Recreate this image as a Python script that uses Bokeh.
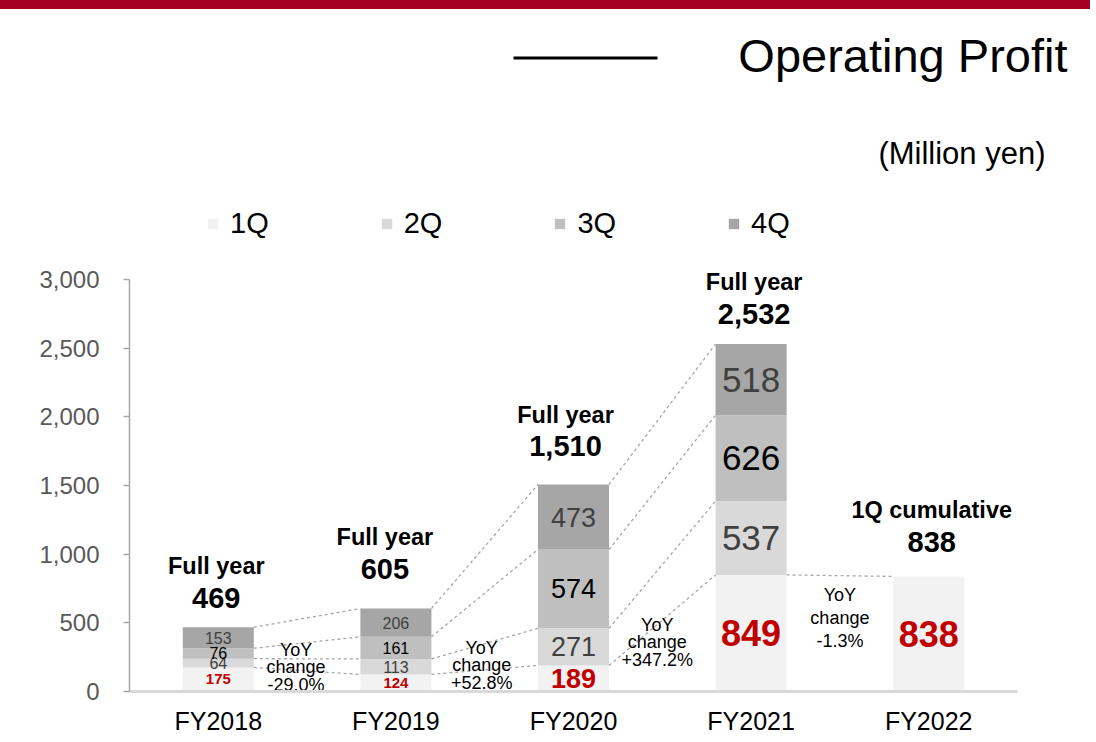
from bokeh.plotting import figure
from bokeh.models import (ColumnDataSource, Range1d, FixedTicker, Legend, LegendItem,
                          Label, BoxAnnotation, Div, NumeralTickFormatter)
from bokeh.layouts import column
from bokeh.embed import file_html
from bokeh.resources import INLINE
from bokeh.core.properties import value

# ---------------- data ----------------
years = ["FY2018", "FY2019", "FY2020", "FY2021", "FY2022"]
quarters = ["1Q", "2Q", "3Q", "4Q"]
q1 = [175, 124, 189, 849, 838]
q2 = [64, 113, 271, 537, 0]
q3 = [76, 161, 574, 626, 0]
q4 = [153, 206, 473, 518, 0]
full_year = [469, 605, 1510, 2532, 838]
headers = ["Full year", "Full year", "Full year", "Full year", "1Q cumulative"]
yoy_change = ["-29.0%", "+52.8%", "+347.2%", "-1.3%"]
y_ticks = [0, 500, 1000, 1500, 2000, 2500, 3000]

# ---------------- styles / layout ----------------
FONT = "Liberation Sans"
bar_colors = ["#f2f2f2", "#d9d9d9", "#bfbfbf", "#a6a6a6"]
label_colors = ["#c00000", "#404040", "#000000", "#404040"]
seg_font = ["16px", "16px", "27px", "35px", "35px"]
q1_font = ["15px", "15px", "27px", "36px", "36px"]
value_lift = [29, 40, 39, 30, 34]       # px above bar top (text centre)
header_lift = [61, 72, 70, 62, 66]
label_dx = [-2, -11, -8, 3, 3]
yoy_anchor = [175, 190, 357, 532]       # y of middle line of the YoY notes
yoy_dx = [-11, -3, -5, 0]
BAR_W = 0.4

series = [q1, q2, q3, q4]
xs = [i + 0.5 for i in range(len(years))]

# ---------------- figure ----------------
PX_PER_UNIT = 412 / 3000.0
BAR_H = 9
FIG_W, FIG_H = 1090, 741 - BAR_H
LEFT, BOTTOM = 129, 50
frame_h = FIG_H - BOTTOM
p = figure(width=FIG_W, height=FIG_H, output_backend="svg", toolbar_location=None,
           x_range=Range1d(0, (FIG_W - LEFT) / 177.6),
           y_range=Range1d(0, frame_h / PX_PER_UNIT),
           min_border_left=LEFT, min_border_right=0, min_border_top=0,
           min_border_bottom=BOTTOM)
p.outline_line_color = None
p.xgrid.visible = False
p.ygrid.visible = False

# stacked bars
src = ColumnDataSource(dict(x=xs, **{q: s for q, s in zip(quarters, series)}))
bars = p.vbar_stack(quarters, x="x", width=BAR_W, source=src,
                    fill_color=bar_colors, line_color=None)

# dashed connectors between consecutive bars
cum = [[sum(s[i] for s in series[:k + 1]) for k in range(4)] for i in range(len(years))]
levels = [sum(1 for s in series if s[i]) for i in range(len(years))]
cx0, cx1, cy0, cy1 = [], [], [], []
for i in range(len(years) - 1):
    for k in range(min(levels[i], levels[i + 1])):
        cx0.append(xs[i] + BAR_W / 2)
        cx1.append(xs[i + 1] - BAR_W / 2)
        cy0.append(cum[i][k])
        cy1.append(cum[i + 1][k])
p.segment(x0=cx0, y0=cy0, x1=cx1, y1=cy1, line_color="#a6a6a6",
          line_width=1.3, line_dash="3 3")

# segment value labels
sx, sy, st, ss, sc, sst = [], [], [], [], [], []
for i in range(len(years)):
    base = 0
    for k, s in enumerate(series):
        v = s[i]
        if not v:
            continue
        sx.append(xs[i]); sy.append(base + v / 2); st.append(str(v))
        ss.append(q1_font[i] if k == 0 else seg_font[i])
        sc.append(label_colors[k])
        sst.append("bold" if k == 0 else "normal")
        base += v
p.text(x="x", y="y", text="t", source=ColumnDataSource(dict(x=sx, y=sy, t=st, s=ss, c=sc, st=sst)),
       text_font=value(FONT), text_font_size="s", text_color="c", text_font_style="st",
       text_align="center", text_baseline="middle")

# full-year / cumulative labels
tops = [c[lv - 1] for c, lv in zip(cum, levels)]
val_src = ColumnDataSource(dict(x=xs, y=tops, t=[f"{v:,}" for v in full_year],
                                dy=[-l for l in value_lift], dx=label_dx))
hdr_src = ColumnDataSource(dict(x=xs, y=tops, t=headers,
                                dy=[-l for l in header_lift], dx=label_dx))
p.text(x="x", y="y", text="t", source=val_src, x_offset="dx", y_offset="dy",
       text_font=value(FONT), text_font_size="29px", text_font_style="bold",
       text_color="black", text_align="center", text_baseline="middle")
p.text(x="x", y="y", text="t", source=hdr_src, x_offset="dx", y_offset="dy",
       text_font=value(FONT), text_font_size="23.5px", text_font_style="bold",
       text_color="black", text_align="center", text_baseline="middle")

# YoY notes
yoy_txt = [f"YoY\nchange\n{c}" for c in yoy_change]
yx = [i + 1.0 for i in range(len(yoy_change))]
p.text(x=yx[:3], y=yoy_anchor[:3], text=yoy_txt[:3], x_offset=yoy_dx[:3],
       text_font=value(FONT), text_font_size="18px", text_color="black",
       text_align="center", text_baseline="middle", text_line_height=0.885)
p.text(x=yx[3:], y=yoy_anchor[3:], text=yoy_txt[3:], x_offset=yoy_dx[3:],
       text_font=value(FONT), text_font_size="18px", text_color="black",
       text_align="center", text_baseline="middle", text_line_height=1.15)

# axes
p.yaxis.ticker = FixedTicker(ticks=y_ticks)
p.yaxis.bounds = (0, 3000)
p.yaxis.formatter = NumeralTickFormatter(format="0,0")
p.yaxis.axis_line_color = "#a6a6a6"
p.yaxis.axis_line_width = 1.5
p.yaxis.major_tick_line_color = "#a6a6a6"
p.yaxis.major_tick_line_width = 1.5
p.yaxis.major_tick_out = 6
p.yaxis.major_tick_in = 0
p.yaxis.minor_tick_line_color = None
p.yaxis.major_label_text_font = FONT
p.yaxis.major_label_text_font_size = "24px"
p.yaxis.major_label_text_color = "#595959"
p.yaxis.major_label_standoff = 24

p.xaxis.ticker = FixedTicker(ticks=xs)
p.xaxis.major_label_overrides = {x: y for x, y in zip(xs, years)}
p.xaxis.bounds = (0, len(years))
p.xaxis.axis_line_color = "#d9d9d9"
p.xaxis.axis_line_width = 3
p.xaxis.major_tick_line_color = None
p.xaxis.minor_tick_line_color = None
p.xaxis.major_label_text_font = FONT
p.xaxis.major_label_text_font_size = "25px"
p.xaxis.major_label_text_color = "black"
p.xaxis.major_label_standoff = 9

# legend
legend = Legend(items=[LegendItem(label=q, renderers=[r]) for q, r in zip(quarters, bars)],
                orientation="horizontal", location=(77, 451),
                glyph_width=13, glyph_height=13, label_standoff=11, spacing=111,
                padding=0, margin=0, border_line_color=None, background_fill_alpha=0,
                label_text_font=FONT, label_text_font_size="29px", label_text_color="black")
p.add_layout(legend)

# title, rule line and unit note (screen units from the frame's lower-left corner)
p.add_layout(Label(x=1067 - LEFT, y=frame_h - 55 + BAR_H, x_units="screen", y_units="screen",
                   text="Operating Profit", text_align="right", text_baseline="middle",
                   text_font=FONT, text_font_size="47px", text_color="black"))
p.add_layout(BoxAnnotation(left=513 - LEFT, right=657 - LEFT,
                           bottom=frame_h - 59 + BAR_H, top=frame_h - 56 + BAR_H,
                           left_units="screen", right_units="screen",
                           bottom_units="screen", top_units="screen",
                           fill_color="black", fill_alpha=1, line_color=None))
p.add_layout(Label(x=1045 - LEFT, y=frame_h - 153 + BAR_H, x_units="screen", y_units="screen",
                   text="(Million yen)", text_align="right", text_baseline="middle",
                   text_font=FONT, text_font_size="31px", text_color="black"))

red_bar = Div(text="", width=FIG_W, height=BAR_H, margin=0,
              styles={"background-color": "#a50021"})
layout = column(red_bar, p, spacing=0)

open("out.html", "w").write(file_html(layout, INLINE))
